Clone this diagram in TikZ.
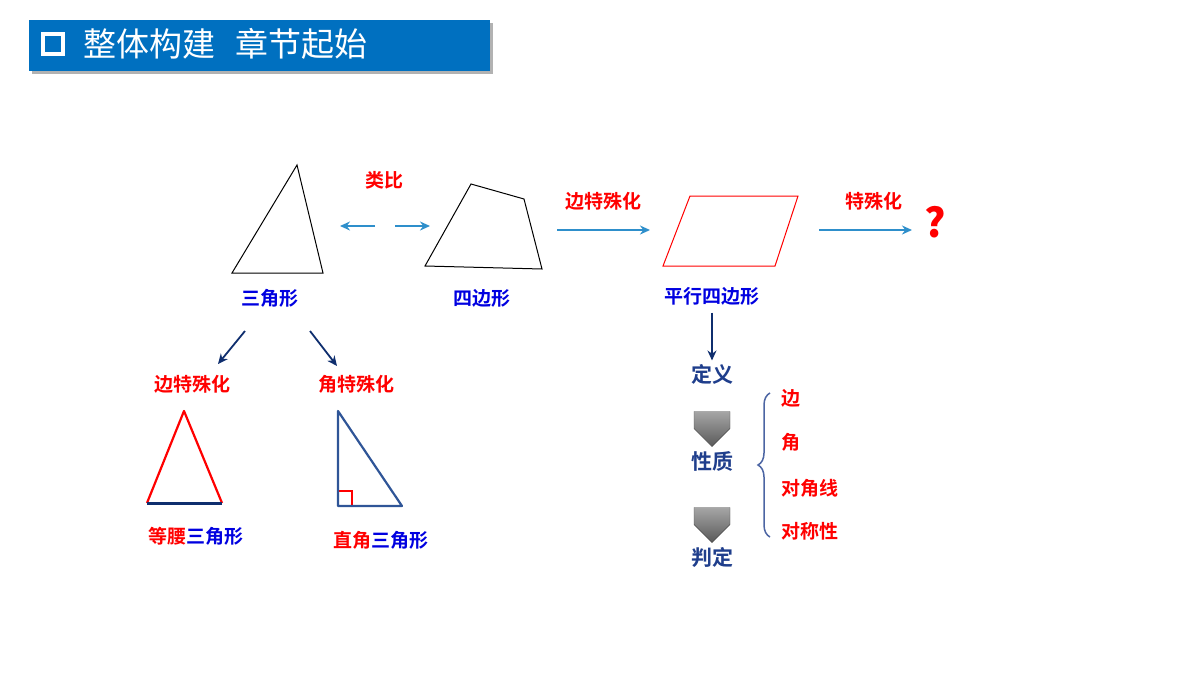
\documentclass[tikz,border=0pt]{standalone}
\usepackage{fontspec}
\setmainfont{Noto Sans CJK SC}
\newfontfamily\cjkb{Noto Sans CJK SC Bold}
\usetikzlibrary{arrows.meta,shapes.arrows,decorations.pathreplacing}
\definecolor{tblue}{HTML}{0070C0}
\definecolor{lblue}{HTML}{0000E0}
\definecolor{navy}{HTML}{0F2E6E}
\definecolor{abl}{HTML}{2E8FCB}
\definecolor{rtb}{HTML}{2F5597}
\definecolor{dblue}{HTML}{1F3E8C}
\begin{document}
\begin{tikzpicture}[x=1pt,y=-1pt,
  rl/.style={text=red,font=\cjkb\fontsize{19}{19}\selectfont},
  bl/.style={text=lblue,font=\cjkb\fontsize{19}{19}\selectfont},
  dl/.style={text=dblue,font=\cjkb\fontsize{21}{21}\selectfont},
  aa/.style={draw=abl,line width=2.2pt,-{Stealth[length=10pt,width=9pt]}},
  na/.style={draw=navy,line width=1.8pt,-{Stealth[length=10pt,width=9pt]}},
  ga/.style={single arrow,draw=black!70,top color=black!35,bottom color=black!65,shape border rotate=270,minimum width=36pt,single arrow head extend=0pt,minimum height=35pt,inner sep=0pt,single arrow tip angle=90}]
\useasboundingbox (0,0) rectangle (1200,675);
% title
\fill[black!30] (32,23) rectangle (493,74);
\node[fill=tblue,minimum width=461pt,minimum height=51pt,inner sep=0,anchor=north west] (bar) at (29,20) {};
\node[draw=white,line width=4pt,minimum size=20pt,inner sep=0] (sq) at (53,44) {};
\node[anchor=west,text=white,font=\fontsize{33}{33}\selectfont] (title) at (80,44) {整体构建\hspace{0.6em}章节起始};
% triangle
\draw[black,line width=1pt] (297,165) -- (232,273) -- (323,273) -- cycle;
\node[bl] (tri) at (270,298) {三角形};
\node[rl] (lb) at (384,180) {类比};
\coordinate (l1) at (375,226); \coordinate (l2) at (340,226);
\coordinate (r1) at (395,226); \coordinate (r2) at (430,226);
\draw[aa] (l1) -- (l2); \draw[aa] (r1) -- (r2);
\draw[black,line width=1pt] (471,184) -- (524,199) -- (542,269) -- (425,266) -- cycle;
\node[bl] (quad) at (482,298) {四边形};
\coordinate (a1) at (557,230); \coordinate (a2) at (650,230);
\draw[aa] (a1) -- (a2);
\node[rl] (bt) at (603,201) {边特殊化};
\draw[red,line width=1pt] (690,196) -- (798,196) -- (775,266) -- (663,266) -- cycle;
\node[bl] (para) at (712,296) {平行四边形};
\coordinate (b1) at (819,230); \coordinate (b2) at (912,230);
\draw[aa] (b1) -- (b2);
\node[rl] (ts) at (874,201) {特殊化};
\node[text=red,font=\fontsize{40}{40}\selectfont\bfseries] (q) at (935,222) {?};
% right column
\node[dl] (dy) at (712,374) {定义};
\draw[na] (para.south -| dy) ++(0,4) coordinate (p1) -- (dy.north);
\node[ga] (g1) at (712,420) {};
\node[dl] (xz) at (712,461) {性质};
\node[ga] (g2) at (712,516) {};
\node[dl] (pd) at (712,557) {判定};
\draw[decorate,decoration={brace,amplitude=12pt,mirror},draw=dblue!80,line width=1.5pt] (770,393) -- (770,537);
\node[rl,anchor=west] (e1) at (778,398) {边};
\node[rl,anchor=west] (e2) at (778,442) {角};
\node[rl,anchor=west] (e3) at (778,488) {对角线};
\node[rl,anchor=west] (e4) at (778,531) {对称性};
% lower left
\coordinate (c1) at (245,331); \coordinate (c2) at (218,364);
\coordinate (d1) at (310,331); \coordinate (d2) at (337,366);
\draw[na] (c1) -- (c2); \draw[na] (d1) -- (d2);
\node[rl] (bt2) at (192,384) {边特殊化};
\node[rl] (jt) at (356,384) {角特殊化};
\draw[red,line width=2.2pt,line join=round] (147,503) -- (184,411) -- (222,503);
\draw[navy,line width=3pt] (147,503) -- (222,503);
\node[font=\cjkb\fontsize{19}{19}\selectfont] (dy3) at (196,536) {\textcolor{red}{等腰}\textcolor{lblue}{三角形}};
\draw[red,line width=1.5pt] (338,491) -- (352,491) -- (352,506);
\draw[rtb,line width=2.2pt,line join=round] (338,411) -- (338,506) -- (402,506) -- cycle;
\node[font=\cjkb\fontsize{19}{19}\selectfont] (zj) at (381,540) {\textcolor{red}{直角}\textcolor{lblue}{三角形}};
\end{tikzpicture}
\end{document}
